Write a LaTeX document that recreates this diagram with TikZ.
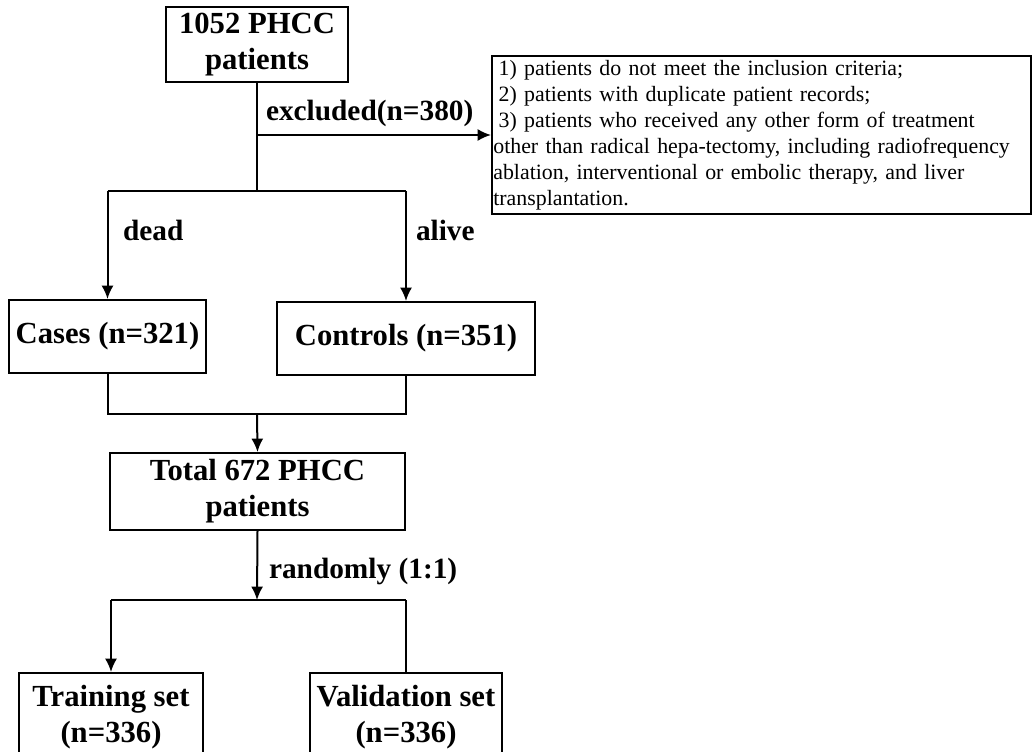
\documentclass[tikz,border=0pt]{standalone}
\usepackage{fontspec}
\setmainfont{Liberation Serif}
\usepackage{tikz}
\usetikzlibrary{arrows.meta,positioning}

\begin{document}
\begin{tikzpicture}[x=0.75pt,y=-0.75pt,line width=1.5pt,
  box/.style={draw,align=center,inner sep=2pt,font=\fontsize{23}{27}\selectfont\bfseries},
  lbl/.style={anchor=west,inner sep=0pt,font=\fontsize{22}{26}\selectfont\bfseries},
  arr/.style={-{Latex[length=10pt,width=9pt]}}]
\useasboundingbox (0,0) rectangle (1034,752);
\clip (0,0) rectangle (1034,752);
% boxes
\node[box,minimum width=136.5pt,minimum height=56.25pt] (start) at (257,44.5) {1052 PHCC\\patients};
\node[draw,anchor=north west,text width=402pt,minimum height=118.5pt,inner xsep=1pt,inner ysep=1pt,
  align=left,font=\fontsize{16.4}{19.5}\selectfont] (excl) at (491,55)
  {\hspace*{4pt}1) patients do not meet the inclusion criteria;\\
   \hspace*{4pt}2) patients with duplicate patient records;\\
   \hspace*{4pt}3) patients who received any other form of treatment\\
   other than radical hepa-tectomy, including radiofrequency\\
   ablation, interventional or embolic therapy, and liver\\
   transplantation.};
\node[box,minimum width=147.75pt,minimum height=54.75pt] (cases) at (107.5,336.5) {Cases (n=321)};
\node[box,minimum width=193.5pt,minimum height=54.75pt] (controls) at (406,338.5) {Controls (n=351)};
\node[box,minimum width=221.25pt,minimum height=57.75pt] (total) at (257.5,491.5) {Total 672 PHCC\\patients};
\node[box,anchor=north,minimum width=138pt,minimum height=66pt] (train) at (111,672) {Training set\\(n=336)};
\node[box,anchor=north,minimum width=144pt,minimum height=66pt] (valid) at (406,672) {Validation set\\(n=336)};
% junctions
\coordinate (jexcl) at (257,135);
\coordinate (split) at (257,191);
\coordinate (merge) at (257,414);
\coordinate (rand) at (257,600);
% connectors
\draw (start.south) -- (split);
\draw[arr] (jexcl) -- (jexcl -| excl.west);
\draw (cases.north |- split) -- (controls.north |- split);
\draw[arr] (cases.north |- split) -- (cases.north);
\draw[arr] (controls.north |- split) -- (controls.north);
\draw (cases.south) -- (cases.south |- merge) -- (controls.south |- merge) -- (controls.south);
\draw[arr] (merge) -- (total.north);
\draw[arr] (total.south) -- (rand);
\draw (train.north |- rand) -- (valid.north |- rand);
\draw[arr] (train.north |- rand) -- (train.north);
\draw (valid.north |- rand) -- (valid.north);
% labels
\node[lbl] (lexcl) at (265,113) {excluded(n=380)};
\node[lbl] (ldead) at (122,230) {dead};
\node[lbl] (lalive) at (415,230) {alive};
\node[lbl] (lrand) at (268,571) {randomly (1:1)};
\end{tikzpicture}
\end{document}
